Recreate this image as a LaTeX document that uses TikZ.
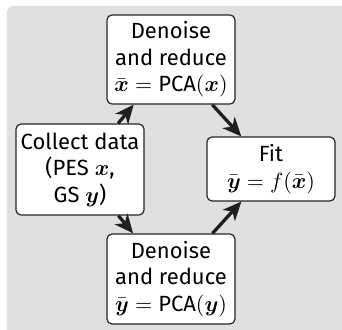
\documentclass[tikz,border=0pt]{standalone}
\usepackage{amsmath}
\usepackage[no-math]{fontspec}
\setmainfont{Fira Sans}
\usetikzlibrary{arrows.meta}
\definecolor{bggray}{RGB}{224,224,224}
\begin{document}
\begin{tikzpicture}[x=0.4545pt,y=-0.4545pt,
  box/.style={draw=black!85, line width=0.55pt, fill=white, rounded corners=2.3pt,
    align=center, minimum width=58.2pt, inner sep=2pt,
    font=\fontsize{10}{12}\selectfont},
  flow/.style={-{Stealth[length=8.5pt,width=7.5pt,inset=2.5pt]}, line width=1.5pt, draw=black!88}]
\useasboundingbox (0,0) rectangle (342,330);
\fill[bggray, rounded corners=2.5pt] (7,6) rectangle (352,340);
\node[box, minimum height=40.5pt] (top) at (171,59.5)
  {Denoise\\and reduce\\$\bar{\boldsymbol{x}} = \text{PCA}(\boldsymbol{x})$};
\node[box, minimum height=41.4pt] (collect) at (80,169.5)
  {Collect data\\(PES $\boldsymbol{x}$,\\GS $\boldsymbol{y}$)};
\node[box, minimum height=29.1pt] (fit) at (271,169)
  {Fit\\$\bar{\boldsymbol{y}} = f(\bar{\boldsymbol{x}})$};
\node[box, minimum height=40.9pt] (bottom) at (171,279)
  {Denoise\\and reduce\\$\bar{\boldsymbol{y}} = \text{PCA}(\boldsymbol{y})$};
\draw[flow] (collect) -- (top);
\draw[flow] (collect) -- (bottom);
\draw[flow] (top) -- (fit);
\draw[flow] (bottom) -- (fit);
\end{tikzpicture}
\end{document}
